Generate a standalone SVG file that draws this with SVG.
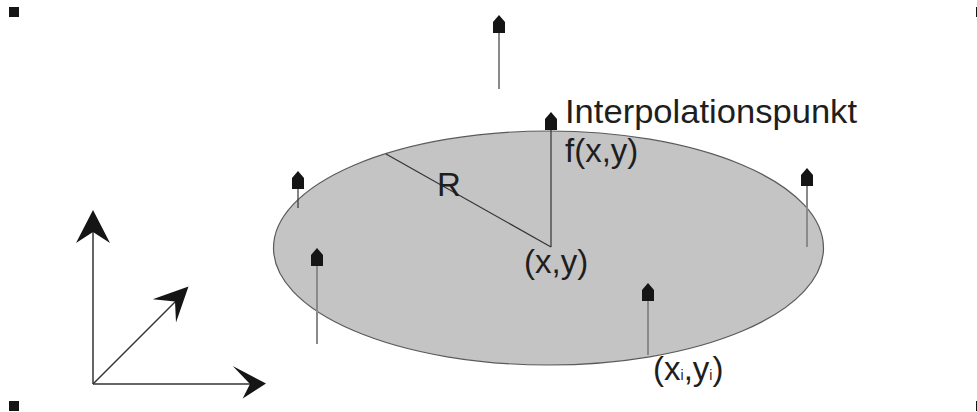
<svg xmlns="http://www.w3.org/2000/svg" xmlns:xlink="http://www.w3.org/1999/xlink" width="977" height="412" viewBox="0 0 977 412">
<style>
.lbl{font-family:"Liberation Sans",Arial,sans-serif;font-size:33px;fill:#1e1e1e}
.gray{stroke:#8a8a8a;stroke-width:2;fill:none}
.dark{stroke:#333;stroke-width:1.2;fill:none}
.axis{stroke:#333;stroke-width:1.5;fill:none}
.head{fill:#151515}
.corner{fill:#151515}
</style>
<defs>
<path id="ph" d="M0,0 L6,7 L6,18 L-6,18 L-6,7 Z"/>
</defs>
<rect width="977" height="412" fill="#fff"/>
<g id="corners">
<rect class="corner" x="9" y="7" width="10" height="10"/>
<rect class="corner" x="9" y="401" width="10" height="10"/>
<rect class="corner" x="976" y="7" width="10" height="10"/>
<rect class="corner" x="976" y="401" width="10" height="10"/>
</g>
<g id="plane">
<ellipse cx="548.5" cy="248" rx="275" ry="117" fill="#c4c4c4" stroke="#5a5a5a" stroke-width="1.2"/>
</g>
<g id="connectors">
<line class="dark" x1="386" y1="154" x2="551" y2="247"/>
<line class="dark" x1="551" y1="130" x2="551" y2="247"/>
</g>
<g id="axes">
<line class="axis" x1="93" y1="384" x2="93" y2="225"/>
<path class="head" d="M93,210 L110,243 L93,232 L76,243 Z"/>
<line class="axis" x1="93" y1="384" x2="252" y2="384"/>
<path class="head" d="M266,383.5 L242.7,398.5 L250,384 L232.7,366 Z"/>
<line class="axis" x1="93" y1="384" x2="178" y2="299"/>
<path class="head" d="M188.5,286.5 L176,322.5 L175,301.5 L152.7,299.3 Z"/>
</g>
<g id="pt-top">
<line class="gray" x1="499" y1="33" x2="499" y2="89"/>
<use href="#ph" xlink:href="#ph" class="head" x="499" y="15"/>
</g>
<g id="pt-center">
<use href="#ph" xlink:href="#ph" class="head" x="551" y="112"/>
</g>
<g id="pt-left">
<line class="dark" x1="298" y1="189" x2="298" y2="208"/>
<use href="#ph" xlink:href="#ph" class="head" x="298" y="171"/>
</g>
<g id="pt-right">
<line class="gray" x1="807" y1="186" x2="807" y2="247"/>
<use href="#ph" xlink:href="#ph" class="head" x="807" y="168"/>
</g>
<g id="pt-left-bottom">
<line class="gray" x1="317" y1="266" x2="317" y2="344"/>
<use href="#ph" xlink:href="#ph" class="head" x="317" y="248"/>
</g>
<g id="pt-bottom-right">
<line class="gray" x1="648" y1="301" x2="648" y2="355"/>
<use href="#ph" xlink:href="#ph" class="head" x="648" y="283"/>
</g>
<g id="labels">
<text class="lbl" x="565" y="123" textLength="292" lengthAdjust="spacingAndGlyphs">Interpolationspunkt</text>
<text class="lbl" x="565" y="162">f(x,y)</text>
<text class="lbl" x="437" y="196">R</text>
<text class="lbl" x="524" y="273">(x,y)</text>
<text class="lbl" x="653" y="380">(x<tspan font-size="14">i</tspan>,y<tspan font-size="14">i</tspan>)</text>
</g>
</svg>
